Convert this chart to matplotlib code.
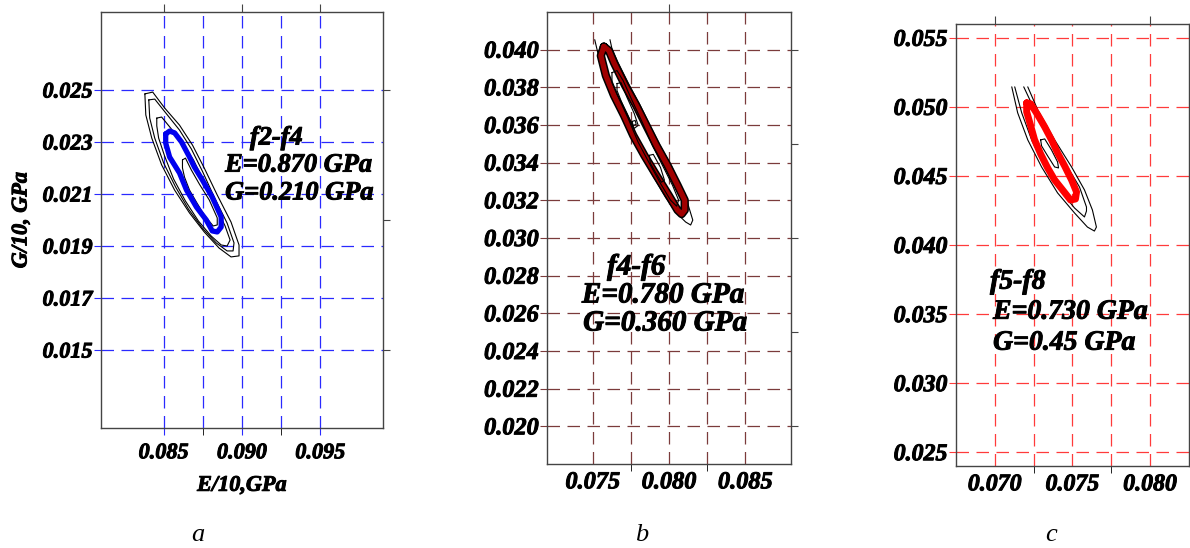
import numpy as np
import matplotlib
matplotlib.use('Agg')
import matplotlib.pyplot as plt
import matplotlib.patheffects as pe

plt.rcParams['font.family'] = ['Liberation Serif', 'DejaVu Serif']

# ---------------------------------------------- #
# contour rings (E/10, G/10)
# ---------------------------------------------- #

# panel a : f2-f4
a1_E = [0.08380, 0.08430, 0.08506, 0.08601, 0.08684, 0.08759, 0.08842, 0.08930, 0.08981,
        0.08981, 0.08930, 0.08854, 0.08759, 0.08665, 0.08570, 0.08487, 0.08424, 0.08386]
a1_G = [0.02485, 0.02492, 0.02431, 0.02365, 0.02288, 0.02200, 0.02096, 0.01992, 0.01904,
        0.01862, 0.01858, 0.01892, 0.01954, 0.02027, 0.02115, 0.02212, 0.02315, 0.02404]
a2_E = [0.08405, 0.08443, 0.08513, 0.08601, 0.08677, 0.08747, 0.08823, 0.08905, 0.08949,
        0.08943, 0.08905, 0.08835, 0.08747, 0.08658, 0.08576, 0.08500, 0.08443, 0.08411]
a2_G = [0.02462, 0.02465, 0.02412, 0.02346, 0.02273, 0.02188, 0.02088, 0.01988, 0.01912,
        0.01881, 0.01881, 0.01912, 0.01969, 0.02042, 0.02127, 0.02219, 0.02315, 0.02392]
a3_E = [0.08456, 0.08487, 0.08544, 0.08620, 0.08690, 0.08753, 0.08823, 0.08892, 0.08924,
        0.08905, 0.08867, 0.08804, 0.08722, 0.08639, 0.08563, 0.08506, 0.08468, 0.08456]
a3_G = [0.02392, 0.02396, 0.02354, 0.02296, 0.02231, 0.02154, 0.02065, 0.01977, 0.01923,
        0.01900, 0.01904, 0.01938, 0.01996, 0.02073, 0.02158, 0.02246, 0.02315, 0.02362]
a_main_E = [0.08513, 0.08538, 0.08570, 0.08614, 0.08665, 0.08696, 0.08747, 0.08810, 0.08867,
            0.08867, 0.08842, 0.08810, 0.08772, 0.08709, 0.08646, 0.08601, 0.08538, 0.08513]
a_main_G = [0.02331, 0.02342, 0.02335, 0.02300, 0.02242, 0.02204, 0.02154, 0.02088, 0.02012,
            0.01973, 0.01954, 0.01958, 0.02000, 0.02050, 0.02115, 0.02181, 0.02242, 0.02296]
a4_E = [0.08620, 0.08639, 0.08677, 0.08728, 0.08791, 0.08842, 0.08842, 0.08816, 0.08759,
        0.08709, 0.08665, 0.08633, 0.08620]
a4_G = [0.02231, 0.02238, 0.02192, 0.02138, 0.02077, 0.02008, 0.01981, 0.01977, 0.02019,
        0.02069, 0.02115, 0.02165, 0.02200]

# panel b : f4-f6
b_main_E = [0.07573, 0.07606, 0.07639, 0.07712, 0.07785, 0.07851, 0.07917, 0.07990, 0.08056,
            0.08103, 0.08103, 0.08083, 0.08056, 0.07997, 0.07917, 0.07838, 0.07765, 0.07705,
            0.07639, 0.07586, 0.07553]
b_main_G = [0.04016, 0.03995, 0.03931, 0.03810, 0.03704, 0.03598, 0.03492, 0.03386, 0.03280,
            0.03201, 0.03148, 0.03127, 0.03148, 0.03228, 0.03333, 0.03439, 0.03545, 0.03651,
            0.03757, 0.03862, 0.03968]
b1_E = [0.07513, 0.07533, 0.07566, 0.07619, 0.07685, 0.07745, 0.07818, 0.07897, 0.07977,
        0.08050, 0.08109, 0.08142, 0.08156, 0.08136, 0.08116, 0.08076, 0.08017, 0.07944,
        0.07878, 0.07811, 0.07738, 0.07666, 0.07626, 0.07613]
b1_G = [0.04053, 0.03984, 0.03878, 0.03767, 0.03656, 0.03550, 0.03439, 0.03327, 0.03216,
        0.03132, 0.03085, 0.03069, 0.03095, 0.03148, 0.03201, 0.03275, 0.03381, 0.03487,
        0.03593, 0.03704, 0.03815, 0.03931, 0.04005, 0.04053]
b2_E = [0.07626, 0.07659, 0.07699, 0.07758, 0.07825, 0.07891, 0.07957, 0.08023, 0.08063,
        0.08050, 0.08010, 0.07944, 0.07871, 0.07798, 0.07732, 0.07672, 0.07626]
b2_G = [0.03878, 0.03889, 0.03836, 0.03730, 0.03614, 0.03492, 0.03386, 0.03280, 0.03201,
        0.03169, 0.03201, 0.03290, 0.03397, 0.03508, 0.03635, 0.03741, 0.03825]
b3_E = [0.07659, 0.07685, 0.07725, 0.07772, 0.07798, 0.07772, 0.07732, 0.07685, 0.07659]
b3_G = [0.03820, 0.03825, 0.03746, 0.03661, 0.03598, 0.03582, 0.03646, 0.03730, 0.03783]
b4_E = [0.07758, 0.07778, 0.07785, 0.07765]
b4_G = [0.03619, 0.03624, 0.03603, 0.03598]
b5_E = [0.07871, 0.07897, 0.07944, 0.07970, 0.07950, 0.07911, 0.07878]
b5_G = [0.03439, 0.03444, 0.03375, 0.03307, 0.03296, 0.03349, 0.03397]

# panel c : f5-f8
c_main_E = [0.07205, 0.07231, 0.07276, 0.07321, 0.07365, 0.07404, 0.07449, 0.07494, 0.07526,
            0.07519, 0.07487, 0.07436, 0.07385, 0.07340, 0.07295, 0.07256, 0.07231, 0.07205]
c_main_G = [0.05029, 0.05022, 0.04942, 0.04855, 0.04761, 0.04667, 0.04573, 0.04471, 0.04384,
            0.04333, 0.04326, 0.04399, 0.04471, 0.04558, 0.04659, 0.04761, 0.04862, 0.04964]
c1_E = [0.07109, 0.07147, 0.07212, 0.07301, 0.07404, 0.07513, 0.07596, 0.07641, 0.07654,
        0.07628, 0.07577, 0.07494, 0.07385, 0.07276, 0.07212]
c1_G = [0.05145, 0.04957, 0.04761, 0.04565, 0.04377, 0.04232, 0.04130, 0.04101, 0.04130,
        0.04254, 0.04399, 0.04565, 0.04761, 0.04979, 0.05145]
c2_E = [0.07128, 0.07173, 0.07237, 0.07321, 0.07417, 0.07513, 0.07577, 0.07590, 0.07590,
        0.07545, 0.07468, 0.07365, 0.07256, 0.07186]
c2_G = [0.05145, 0.04957, 0.04761, 0.04565, 0.04399, 0.04268, 0.04203, 0.04246, 0.04275,
        0.04420, 0.04565, 0.04761, 0.04978, 0.05145]
c3_E = [0.07295, 0.07321, 0.07365, 0.07404, 0.07410, 0.07385, 0.07340, 0.07301]
c3_G = [0.04761, 0.04768, 0.04688, 0.04601, 0.04558, 0.04565, 0.04645, 0.04717]

# ---------------------- #
# axes / grid definition
# ---------------------- #

a_xmaj = [0.085, 0.090, 0.095]
a_xmin = [0.0875, 0.0925]
a_y = [0.015, 0.017, 0.019, 0.021, 0.023, 0.025]
a_yright = [0.015, 0.020, 0.025]

b_xmaj = [0.075, 0.080, 0.085]
b_xmin = [0.0775, 0.0825]
b_y = [0.020, 0.022, 0.024, 0.026, 0.028, 0.030, 0.032, 0.034, 0.036, 0.038, 0.040]
b_yright = [0.020, 0.025, 0.030, 0.035, 0.040]

c_xmaj = [0.070, 0.075, 0.080]
c_xmin = [0.0725, 0.0775]
c_y = [0.025, 0.030, 0.035, 0.040, 0.045, 0.050, 0.055]

heavy = [pe.withStroke(linewidth=0.7, foreground='k')]


def ring(ax, E, G, closed=True, **kw):
    E = list(E)
    G = list(G)
    if closed:
        E = E + E[:1]
        G = G + G[:1]
    ax.plot(E, G, solid_joinstyle='round', solid_capstyle='round', **kw)


def panel(ax, xlim, ylim, xmaj, xmin, yt, yright, xtop, gcol, major_ext, fs):
    ax.set_xlim(xlim)
    ax.set_ylim(ylim)
    for x in xmaj + xmin:
        ax.axvline(x, color=gcol, lw=0.9, ls=(0, (10, 6)), zorder=1)
    for y in yt:
        ax.axhline(y, color=gcol, lw=0.9, ls=(0, (10, 6)), zorder=1)
    ax.set_xticks(xmaj)
    ax.set_xticks(xmin, minor=True)
    ax.set_xticklabels(['%.3f' % v for v in xmaj])
    ax.set_yticks(yt)
    ax.set_yticklabels(['%.3f' % v for v in yt])
    ax.tick_params(axis='x', which='major', direction='out', length=major_ext,
                   color=gcol, pad=6, labelsize=fs)
    ax.tick_params(axis='x', which='minor', direction='out', length=5, color='k')
    ax.tick_params(axis='y', which='major', direction='out', length=5, color=gcol,
                   pad=1, labelsize=fs)
    for lab in ax.get_xticklabels() + ax.get_yticklabels():
        lab.set_fontweight('bold')
        lab.set_fontstyle('italic')
        lab.set_path_effects(heavy)
    for s in ax.spines.values():
        s.set_color('#444444')
        s.set_linewidth(1.0)
    if yright:
        r = ax.secondary_yaxis('right')
        r.set_yticks(yright)
        r.set_yticklabels([])
        r.tick_params(direction='out', length=5, color='#444444')
        r.spines['right'].set_visible(False)
    t = ax.secondary_xaxis('top')
    t.set_xticks(xtop)
    t.set_xticklabels([])
    t.tick_params(direction='out', length=6, color='#444444')
    t.spines['top'].set_visible(False)
    ax.tick_params(axis='y', which='both', right=False)
    ax.tick_params(axis='x', which='both', top=False)


def note(ax, x, y, s, fs):
    ax.text(x, y, s, transform=ax.transAxes, fontsize=fs, fontweight='bold',
            fontstyle='italic', va='center', ha='left', path_effects=heavy)


fig = plt.figure(figsize=(11.9, 5.48), dpi=100)
ax_a = fig.add_axes([101 / 1190, 120 / 548, 282 / 1190, 416 / 548])
ax_b = fig.add_axes([547 / 1190, 84 / 548, 244 / 1190, 452 / 548])
ax_c = fig.add_axes([956 / 1190, 82 / 548, 233 / 1190, 442 / 548])

# ----------- a ----------- #
panel(ax_a, (0.081, 0.099), (0.012, 0.028), a_xmaj, a_xmin, a_y, a_yright,
      a_xmaj, '#2a2aff', 5, 16)
for E, G in [(a1_E, a1_G), (a2_E, a2_G), (a3_E, a3_G), (a4_E, a4_G)]:
    ring(ax_a, E, G, color='k', lw=0.8)
ring(ax_a, a_main_E, a_main_G, color='#0000ee', lw=3.8)
note(ax_a, 0.528, 0.697, 'f2-f4', 19)
note(ax_a, 0.44, 0.632, 'E=0.870 GPa', 19)
note(ax_a, 0.44, 0.565, 'G=0.210 GPa', 19)
ax_a.set_xlabel('E/10,GPa', fontsize=16, fontweight='bold', fontstyle='italic',
                labelpad=9, path_effects=heavy)
ax_a.set_ylabel('G/10, GPa', fontsize=16, fontweight='bold', fontstyle='italic',
                labelpad=8, path_effects=heavy)

# ----------- b ----------- #
panel(ax_b, (0.072, 0.088), (0.018, 0.042), b_xmaj, b_xmin, b_y, b_yright,
      [0.080], '#7b3b3b', 0, 17.5)
ring(ax_b, b1_E, b1_G, closed=False, color='k', lw=0.8)
ring(ax_b, b_main_E, b_main_G, color='k', lw=6.0)
ring(ax_b, b_main_E, b_main_G, color='#a00000', lw=3.8)
for E, G in [(b2_E, b2_G), (b3_E, b3_G), (b4_E, b4_G), (b5_E, b5_G)]:
    ring(ax_b, E, G, color='k', lw=0.8)
note(ax_b, 0.246, 0.436, 'f4-f6', 21)
note(ax_b, 0.143, 0.374, 'E=0.780 GPa', 21)
note(ax_b, 0.148, 0.312, 'G=0.360 GPa', 21)

# ----------- c ----------- #
panel(ax_c, (0.0675, 0.0825), (0.024, 0.056), c_xmaj, c_xmin, c_y, None,
      [0.070, 0.080], '#ff3b3b', 0, 17.2)
ring(ax_c, c1_E, c1_G, closed=False, color='k', lw=0.8)
ring(ax_c, c2_E, c2_G, closed=False, color='k', lw=0.8)
ring(ax_c, c3_E, c3_G, color='k', lw=0.8)
ring(ax_c, c_main_E, c_main_G, color='#ff0000', lw=5.0)
note(ax_c, 0.146, 0.416, 'f5-f8', 20)
note(ax_c, 0.159, 0.348, 'E=0.730 GPa', 20)
note(ax_c, 0.159, 0.278, 'G=0.45 GPa', 20)

# panel letters
for x, s in [(198, 'a'), (642, 'b'), (1051, 'c')]:
    fig.text(x / 1190, 7 / 548, s, fontsize=19, fontstyle='italic', ha='center', va='baseline')

fig.savefig('out.png', dpi=100)
